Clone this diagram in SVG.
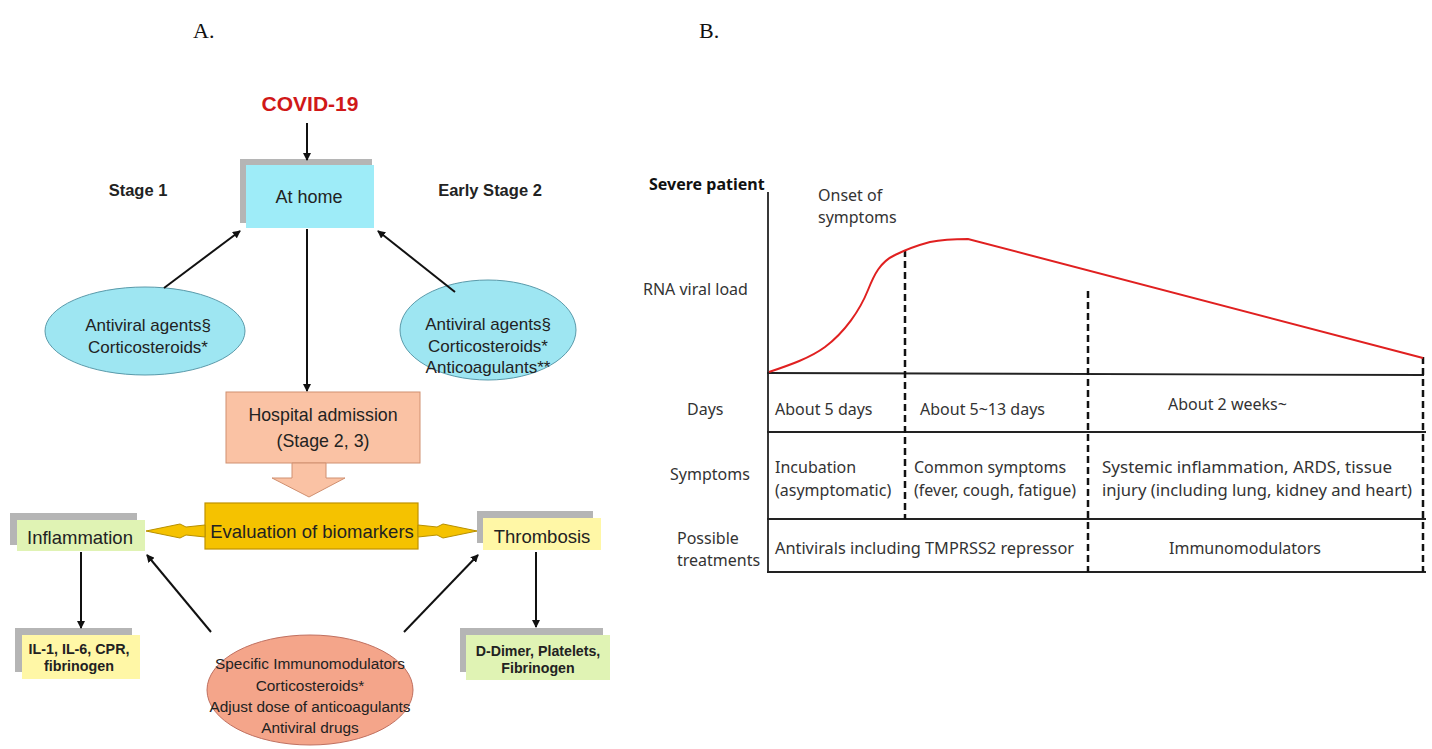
<svg xmlns="http://www.w3.org/2000/svg" width="1432" height="749" viewBox="0 0 1432 749">
<defs>
<marker id="ah" markerWidth="8" markerHeight="8" refX="7" refY="4" orient="auto" markerUnits="userSpaceOnUse">
<path d="M0,0 L8,4 L0,8 Z" fill="#111"/>
</marker>
<style>
.a{font-family:"Liberation Sans",Arial,sans-serif;fill:#222;text-anchor:middle}
.b{font-family:"Noto Sans","Open Sans",sans-serif;fill:#333;font-size:16px}
.sh{fill:#b5b5b5}
.ln{stroke:#111;stroke-width:2;fill:none}
.tl{stroke:#222;stroke-width:1.8;fill:none}
.dl{stroke:#111;stroke-width:2.5;stroke-dasharray:7,4;fill:none}
.ya{fill:#F5C200;stroke:#B89000;stroke-width:1}
</style>
</defs>
<rect width="1432" height="749" fill="#fff"/>
<text x="193" y="38" font-family="Liberation Serif,serif" font-size="22" fill="#111">A.</text>
<text x="699" y="38" font-family="Liberation Serif,serif" font-size="22" fill="#111">B.</text>

<g id="covid"><text class="a" x="310" y="111" font-size="21" font-weight="bold" style="fill:#D01818">COVID-19</text></g>
<text class="a" x="138" y="196" font-size="16.5" font-weight="bold">Stage 1</text>
<text class="a" x="490" y="196" font-size="16.5" font-weight="bold">Early Stage 2</text>

<g id="athome"><rect class="sh" x="240" y="159" width="132" height="64"/><rect x="246" y="165" width="128" height="63" fill="#9EECF8"/><text class="a" x="309" y="203" font-size="18">At home</text></g>

<g id="ell1"><ellipse cx="145" cy="331" rx="100" ry="44" fill="#9EE6F2" stroke="#5A9AAA" stroke-width="1"/>
<text class="a" x="148" y="331" font-size="17">Antiviral agents§</text><text class="a" x="148" y="353" font-size="17">Corticosteroids*</text></g>
<g id="ell2"><ellipse cx="488" cy="330" rx="88" ry="50" fill="#9EE6F2" stroke="#5A9AAA" stroke-width="1"/>
<text class="a" x="488" y="330" font-size="17">Antiviral agents§</text><text class="a" x="488" y="352" font-size="17">Corticosteroids*</text><text class="a" x="488" y="373" font-size="17">Anticoagulants**</text></g>

<g id="hospital"><rect x="226" y="392" width="194" height="71" fill="#FAC2A4" stroke="#D09070" stroke-width="1"/>
<text class="a" x="323" y="421" font-size="17.8">Hospital admission</text><text class="a" x="323" y="447" font-size="17.8">(Stage 2, 3)</text>
<path d="M292,463 L326,463 L326,478 L345,478 L309,497 L272,478 L292,478 Z" fill="#FAC2A4" stroke="#D09070" stroke-width="1"/></g>

<g id="eval"><rect x="205" y="503" width="213" height="46" fill="#F5C200" stroke="#C09200" stroke-width="1.2"/><text class="a" x="312" y="538" font-size="18.5">Evaluation of biomarkers</text></g>

<g id="infl"><rect class="sh" x="10" y="513" width="127" height="32"/><rect x="17" y="520" width="128" height="31" fill="#E0F3B4"/><text class="a" x="80" y="544" font-size="18.5">Inflammation</text></g>
<g id="thromb"><rect class="sh" x="477" y="511" width="116" height="32"/><rect x="483" y="518" width="118" height="32" fill="#FFF7A6"/><text class="a" x="542" y="543" font-size="18.5">Thrombosis</text></g>

<g id="il"><rect class="sh" x="15" y="628" width="117" height="44"/><rect x="22" y="635" width="118" height="44" fill="#FFF7A6"/>
<text class="a" x="79" y="654" font-size="14.3" font-weight="bold">IL-1, IL-6, CPR,</text><text class="a" x="79" y="671" font-size="14.3" font-weight="bold">fibrinogen</text></g>
<g id="dd"><rect class="sh" x="460" y="628" width="143" height="44"/><rect x="466" y="635" width="144" height="45" fill="#E0F3B4"/>
<text class="a" x="538" y="656" font-size="14.2" font-weight="bold">D-Dimer, Platelets,</text><text class="a" x="538" y="673" font-size="14.2" font-weight="bold">Fibrinogen</text></g>

<g id="ell3"><ellipse cx="310" cy="690" rx="103" ry="55" fill="#F4A58A" stroke="#C07060" stroke-width="1"/>
<text class="a" x="310" y="669" font-size="15.4">Specific Immunomodulators</text><text class="a" x="310" y="691" font-size="15.4">Corticosteroids*</text><text class="a" x="310" y="712" font-size="15.4">Adjust dose of anticoagulants</text><text class="a" x="310" y="733" font-size="15.4">Antiviral drugs</text></g>

<g id="connectors">
<line class="ln" x1="307" y1="123" x2="307" y2="160" marker-end="url(#ah)"/>
<line class="ln" x1="164" y1="288" x2="240" y2="231" marker-end="url(#ah)"/>
<line class="ln" x1="455" y1="292" x2="378" y2="231" marker-end="url(#ah)"/>
<line class="ln" x1="307" y1="229" x2="307" y2="391" marker-end="url(#ah)"/>
<line class="ln" x1="81" y1="552" x2="81" y2="628" marker-end="url(#ah)"/>
<line class="ln" x1="536" y1="552" x2="536" y2="627" marker-end="url(#ah)"/>
<line class="ln" x1="211" y1="632" x2="147" y2="555" marker-end="url(#ah)"/>
<line class="ln" x1="404" y1="632" x2="478" y2="555" marker-end="url(#ah)"/>
<path class="ya" d="M205,525 L186,527 L180,524 L146,531 L180,538 L186,535 L205,537 Z"/>
<path class="ya" d="M418,525 L437,527 L443,524 L477,531 L443,538 L437,535 L418,537 Z"/>
</g>

<g id="chartB">
<text x="649" y="190" font-family="Noto Sans,sans-serif" font-size="16" font-weight="bold" fill="#111">Severe patient</text>
<line class="tl" x1="768" y1="192" x2="768" y2="573"/>
<line class="tl" x1="767" y1="373" x2="1424" y2="375"/>
<line class="tl" x1="767" y1="432" x2="1426" y2="432"/>
<line class="tl" x1="767" y1="519" x2="1426" y2="519"/>
<line class="tl" x1="767" y1="572" x2="1426" y2="572"/>
<line class="dl" x1="905" y1="250" x2="905" y2="519"/>
<line class="dl" x1="1088" y1="291" x2="1088" y2="572"/>
<line class="dl" x1="1423" y1="357" x2="1423" y2="572"/>
<path d="M769,372 C790,365 810,358 825,347 C845,332 860,310 868,290 C874,275 880,262 895,255 C905,250 915,246 930,242 C940,240 955,239 968,239 L1423,358" fill="none" stroke="#E02020" stroke-width="2"/>
<text class="b" x="818" y="201">Onset of</text>
<text class="b" x="818" y="223">symptoms</text>
<text class="b" x="643" y="295">RNA viral load</text>
<text class="b" x="687" y="415">Days</text>
<text class="b" x="670" y="480">Symptoms</text>
<text class="b" x="677" y="544">Possible</text>
<text class="b" x="677" y="566">treatments</text>
<text class="b" x="775" y="415">About 5 days</text>
<text class="b" x="920" y="415">About 5~13 days</text>
<text class="b" x="1168" y="410">About 2 weeks~</text>
<text class="b" x="775" y="473">Incubation</text>
<text class="b" x="775" y="496">(asymptomatic)</text>
<text class="b" x="914" y="473">Common symptoms</text>
<text class="b" x="914" y="496">(fever, cough, fatigue)</text>
<text class="b" x="1102" y="473" textLength="290" lengthAdjust="spacingAndGlyphs">Systemic inflammation, ARDS, tissue</text>
<text class="b" x="1102" y="496" textLength="310" lengthAdjust="spacingAndGlyphs">injury (including lung, kidney and heart)</text>
<text class="b" x="775" y="554" textLength="299" lengthAdjust="spacingAndGlyphs">Antivirals including TMPRSS2 repressor</text>
<text class="b" x="1169" y="554">Immunomodulators</text>
</g>
</svg>
